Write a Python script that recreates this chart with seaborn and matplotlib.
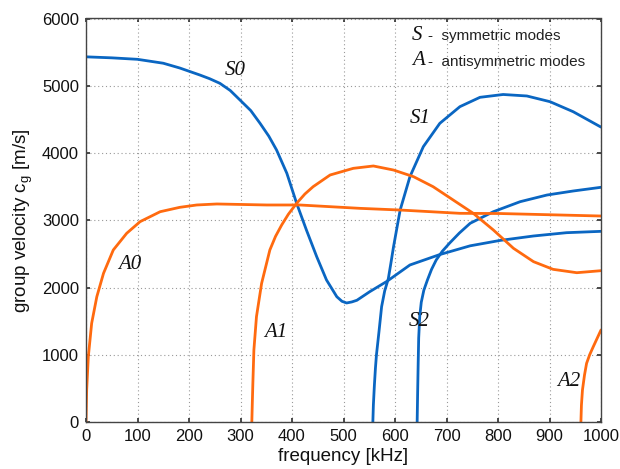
import numpy as np
import pandas as pd
import matplotlib
matplotlib.use("Agg")
import matplotlib.pyplot as plt
import seaborn as sns

# ---- data (frequency kHz, group velocity m/s) ----
s0_f = [0, 50, 100, 150, 182, 221, 240, 260, 280, 299, 320, 338, 355, 370, 390, 409, 428, 448, 467, 487, 497, 506, 516, 526, 551, 584, 629, 687, 746, 804, 869, 933, 1000]
s0_v = [5430, 5415, 5393, 5335, 5264, 5160, 5105, 5036, 4930, 4788, 4630, 4441, 4250, 4045, 3698, 3252, 2855, 2458, 2112, 1863, 1795, 1770, 1785, 1810, 1938, 2090, 2335, 2490, 2620, 2700, 2766, 2815, 2835]

s1_f = [557, 558, 560, 562, 564, 569, 574, 580, 587, 592, 597, 603, 610, 629, 655, 687, 726, 765, 810, 856, 901, 946, 1000]
s1_v = [0, 250, 550, 800, 1000, 1350, 1715, 1950, 2130, 2360, 2600, 2855, 3152, 3648, 4094, 4441, 4689, 4828, 4870, 4848, 4763, 4614, 4385]

s2_f = [643, 644, 645, 646, 648, 651, 656, 663, 671, 680, 692, 706, 725, 746, 791, 843, 895, 946, 1000]
s2_v = [0, 450, 872, 1250, 1566, 1780, 1960, 2112, 2270, 2409, 2540, 2660, 2810, 2955, 3127, 3276, 3375, 3435, 3490]

a0_f = [0, 1.3, 4.5, 11, 21, 34, 53, 79, 105, 144, 182, 215, 254, 351, 415, 532, 610, 726, 804, 1000]
a0_v = [0, 476, 971, 1468, 1863, 2211, 2558, 2806, 2979, 3127, 3192, 3227, 3242, 3227, 3227, 3177, 3152, 3103, 3100, 3063]

a1_f = [322, 323, 324, 326, 331, 341, 357, 368, 380, 393, 409, 425, 441, 474, 519, 558, 597, 636, 674, 713, 752, 791, 830, 869, 907, 953, 1000]
a1_v = [0, 300, 575, 1071, 1566, 2062, 2558, 2760, 2930, 3090, 3252, 3390, 3499, 3673, 3772, 3807, 3747, 3648, 3499, 3301, 3103, 2855, 2583, 2384, 2270, 2220, 2250]

a2_f = [961, 962, 964, 968, 972, 978, 985, 1000]
a2_v = [0, 250, 476, 700, 872, 1000, 1120, 1368]

curves = {"S0": (s0_f, s0_v), "S1": (s1_f, s1_v), "S2": (s2_f, s2_v),
          "A0": (a0_f, a0_v), "A1": (a1_f, a1_v), "A2": (a2_f, a2_v)}

label_pos = {"S0": (289, 5234), "S1": (650, 4520), "S2": (648, 1487),
             "A0": (85, 2335), "A1": (368, 1338), "A2": (938, 595)}

x_ticks = [0, 100, 200, 300, 400, 500, 600, 700, 800, 900, 1000]
y_ticks = [0, 1000, 2000, 3000, 4000, 5000, 6000]

BLUE = "#0a66c2"
ORANGE = "#ff6a0f"

sns.set_theme(style="white")
plt.rcParams["font.family"] = ["Liberation Sans", "DejaVu Sans"]

fig = plt.figure(figsize=(6.2, 4.69), dpi=100)
ax = fig.add_axes([86 / 620, 1 - 422 / 469, (601 - 86) / 620, (422 - 18.5) / 469])

rows = []
for name, (f, v) in curves.items():
    for fi, vi in zip(f, v):
        rows.append({"mode": name, "f": fi, "v": vi})
df = pd.DataFrame(rows)

for name in curves:
    color = BLUE if name.startswith("S") else ORANGE
    sub = df[df["mode"] == name]
    sns.lineplot(data=sub, x="f", y="v", sort=False, color=color, lw=2.0,
                 ax=ax, estimator=None)

for name, (lx, ly) in label_pos.items():
    ax.text(lx, ly, name, fontsize=15, style="italic", family="Liberation Serif",
            ha="center", va="center", color="#111111")

ax.set_xlim(0, 1000)
ax.set_ylim(0, 6000)
ax.set_xticks(x_ticks)
ax.set_yticks(y_ticks)
ax.tick_params(direction="in", length=3, labelsize=12, colors="#333333", pad=5,
               top=True, right=True, bottom=True, left=True)
ax.tick_params(axis="both", labelcolor="#111111")
ax.grid(True, linestyle=(0, (1, 2.5)), color="#999999", linewidth=0.8)
for sp in ax.spines.values():
    sp.set_color("#444444")
    sp.set_linewidth(1.0)

ax.set_xlabel("frequency [kHz]", fontsize=13.5, labelpad=3, color="#111111")
ax.set_ylabel("group velocity c$_\\mathregular{g}$ [m/s]", fontsize=13.5, labelpad=5, color="#111111")

# legend text
ax.text(0.633, 0.958, "S", transform=ax.transAxes, fontsize=15, style="italic",
        family="Liberation Serif", va="center", ha="left", color="#111111")
ax.text(0.664, 0.956, "-  symmetric modes", transform=ax.transAxes, fontsize=11,
        va="center", ha="left", color="#222222")
ax.text(0.633, 0.895, "A", transform=ax.transAxes, fontsize=15, style="italic",
        family="Liberation Serif", va="center", ha="left", color="#111111")
ax.text(0.664, 0.893, "-  antisymmetric modes", transform=ax.transAxes, fontsize=11,
        va="center", ha="left", color="#222222")

fig.savefig("out.png", dpi=100)
